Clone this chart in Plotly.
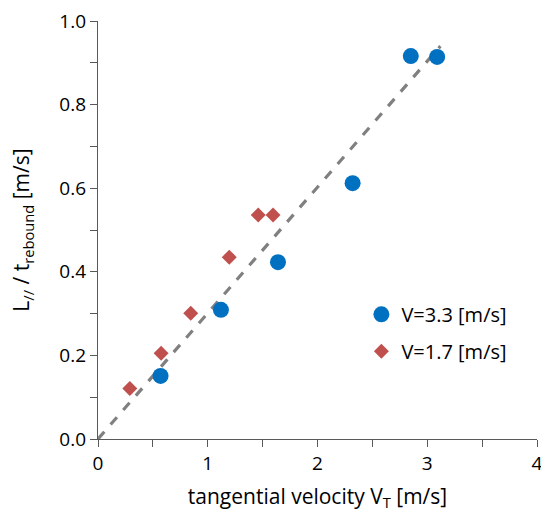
import plotly.graph_objects as go

# Data
v33_x = [0.57, 1.12, 1.64, 2.32, 2.85, 3.09]
v33_y = [0.151, 0.309, 0.423, 0.612, 0.916, 0.914]
v17_x = [0.29, 0.575, 0.845, 1.196, 1.46, 1.595]
v17_y = [0.121, 0.205, 0.301, 0.435, 0.536, 0.536]
fit_x = [0.0, 3.12]
fit_y = [0.0, 0.94]

x_ticks = [0, 1, 2, 3, 4]
y_ticks = [0.0, 0.2, 0.4, 0.6, 0.8, 1.0]

FONT = "Open Sans"
AX = "#595959"

fig = go.Figure()
fig.add_trace(go.Scatter(x=fit_x, y=fit_y, mode="lines",
                         line=dict(color="#808080", width=3.2, dash="dash"),
                         showlegend=False, hoverinfo="skip"))
fig.add_trace(go.Scatter(x=v33_x, y=v33_y, mode="markers", name="V=3.3 [m/s]",
                         legendgroup="a",
                         marker=dict(symbol="circle", size=16, color="#0070C0")))
fig.add_trace(go.Scatter(x=v17_x, y=v17_y, mode="markers", name="V=1.7 [m/s]",
                         legendgroup="b",
                         marker=dict(symbol="diamond", size=11.5, color="#C0504D")))

axis_common = dict(
    showgrid=False, zeroline=False, showline=True, linecolor=AX, linewidth=1.3,
    ticks="outside", ticklen=7, tickcolor=AX, tickwidth=1.3,
    tickfont=dict(family=FONT, size=19, color="#000000"),
    ticklabeloverflow="allow",
)

fig.update_xaxes(range=[0, 4], tickvals=x_ticks, ticktext=[str(v) for v in x_ticks],
                 automargin="bottom",
                 minor=dict(dtick=0.5, ticks="outside", ticklen=7, tickcolor=AX, tickwidth=1.3),
                 title=dict(text="tangential velocity V<sub>T</sub> [m/s]",
                            font=dict(family=FONT, size=21, color="#000000"), standoff=15),
                 **axis_common)
fig.update_yaxes(range=[0, 1.0], tickvals=y_ticks, ticktext=[f"{v:.1f}" for v in y_ticks],
                 automargin="left",
                 minor=dict(dtick=0.1, ticks="outside", ticklen=7, tickcolor=AX, tickwidth=1.3),
                 title=dict(text="L<sub>//</sub> / t<sub>rebound</sub> [m/s]",
                            font=dict(family=FONT, size=21, color="#000000"), standoff=23),
                 **axis_common)

fig.update_layout(
    width=541, height=512,
    margin=dict(l=98, r=4, t=21, b=73),
    paper_bgcolor="white", plot_bgcolor="white",
    font=dict(family=FONT, size=19, color="#000000"),
    legend=dict(x=0.6, y=0.254, xanchor="left", yanchor="middle",
                font=dict(family=FONT, size=20, color="#000000"),
                itemwidth=30, tracegroupgap=8, bgcolor="rgba(0,0,0,0)"),
)

fig.write_html(
    "out.html",
    config={"displayModeBar": False},
    post_script="document.body.style.margin='0';document.body.style.overflow='hidden';"
                "document.documentElement.style.overflow='hidden';",
)
